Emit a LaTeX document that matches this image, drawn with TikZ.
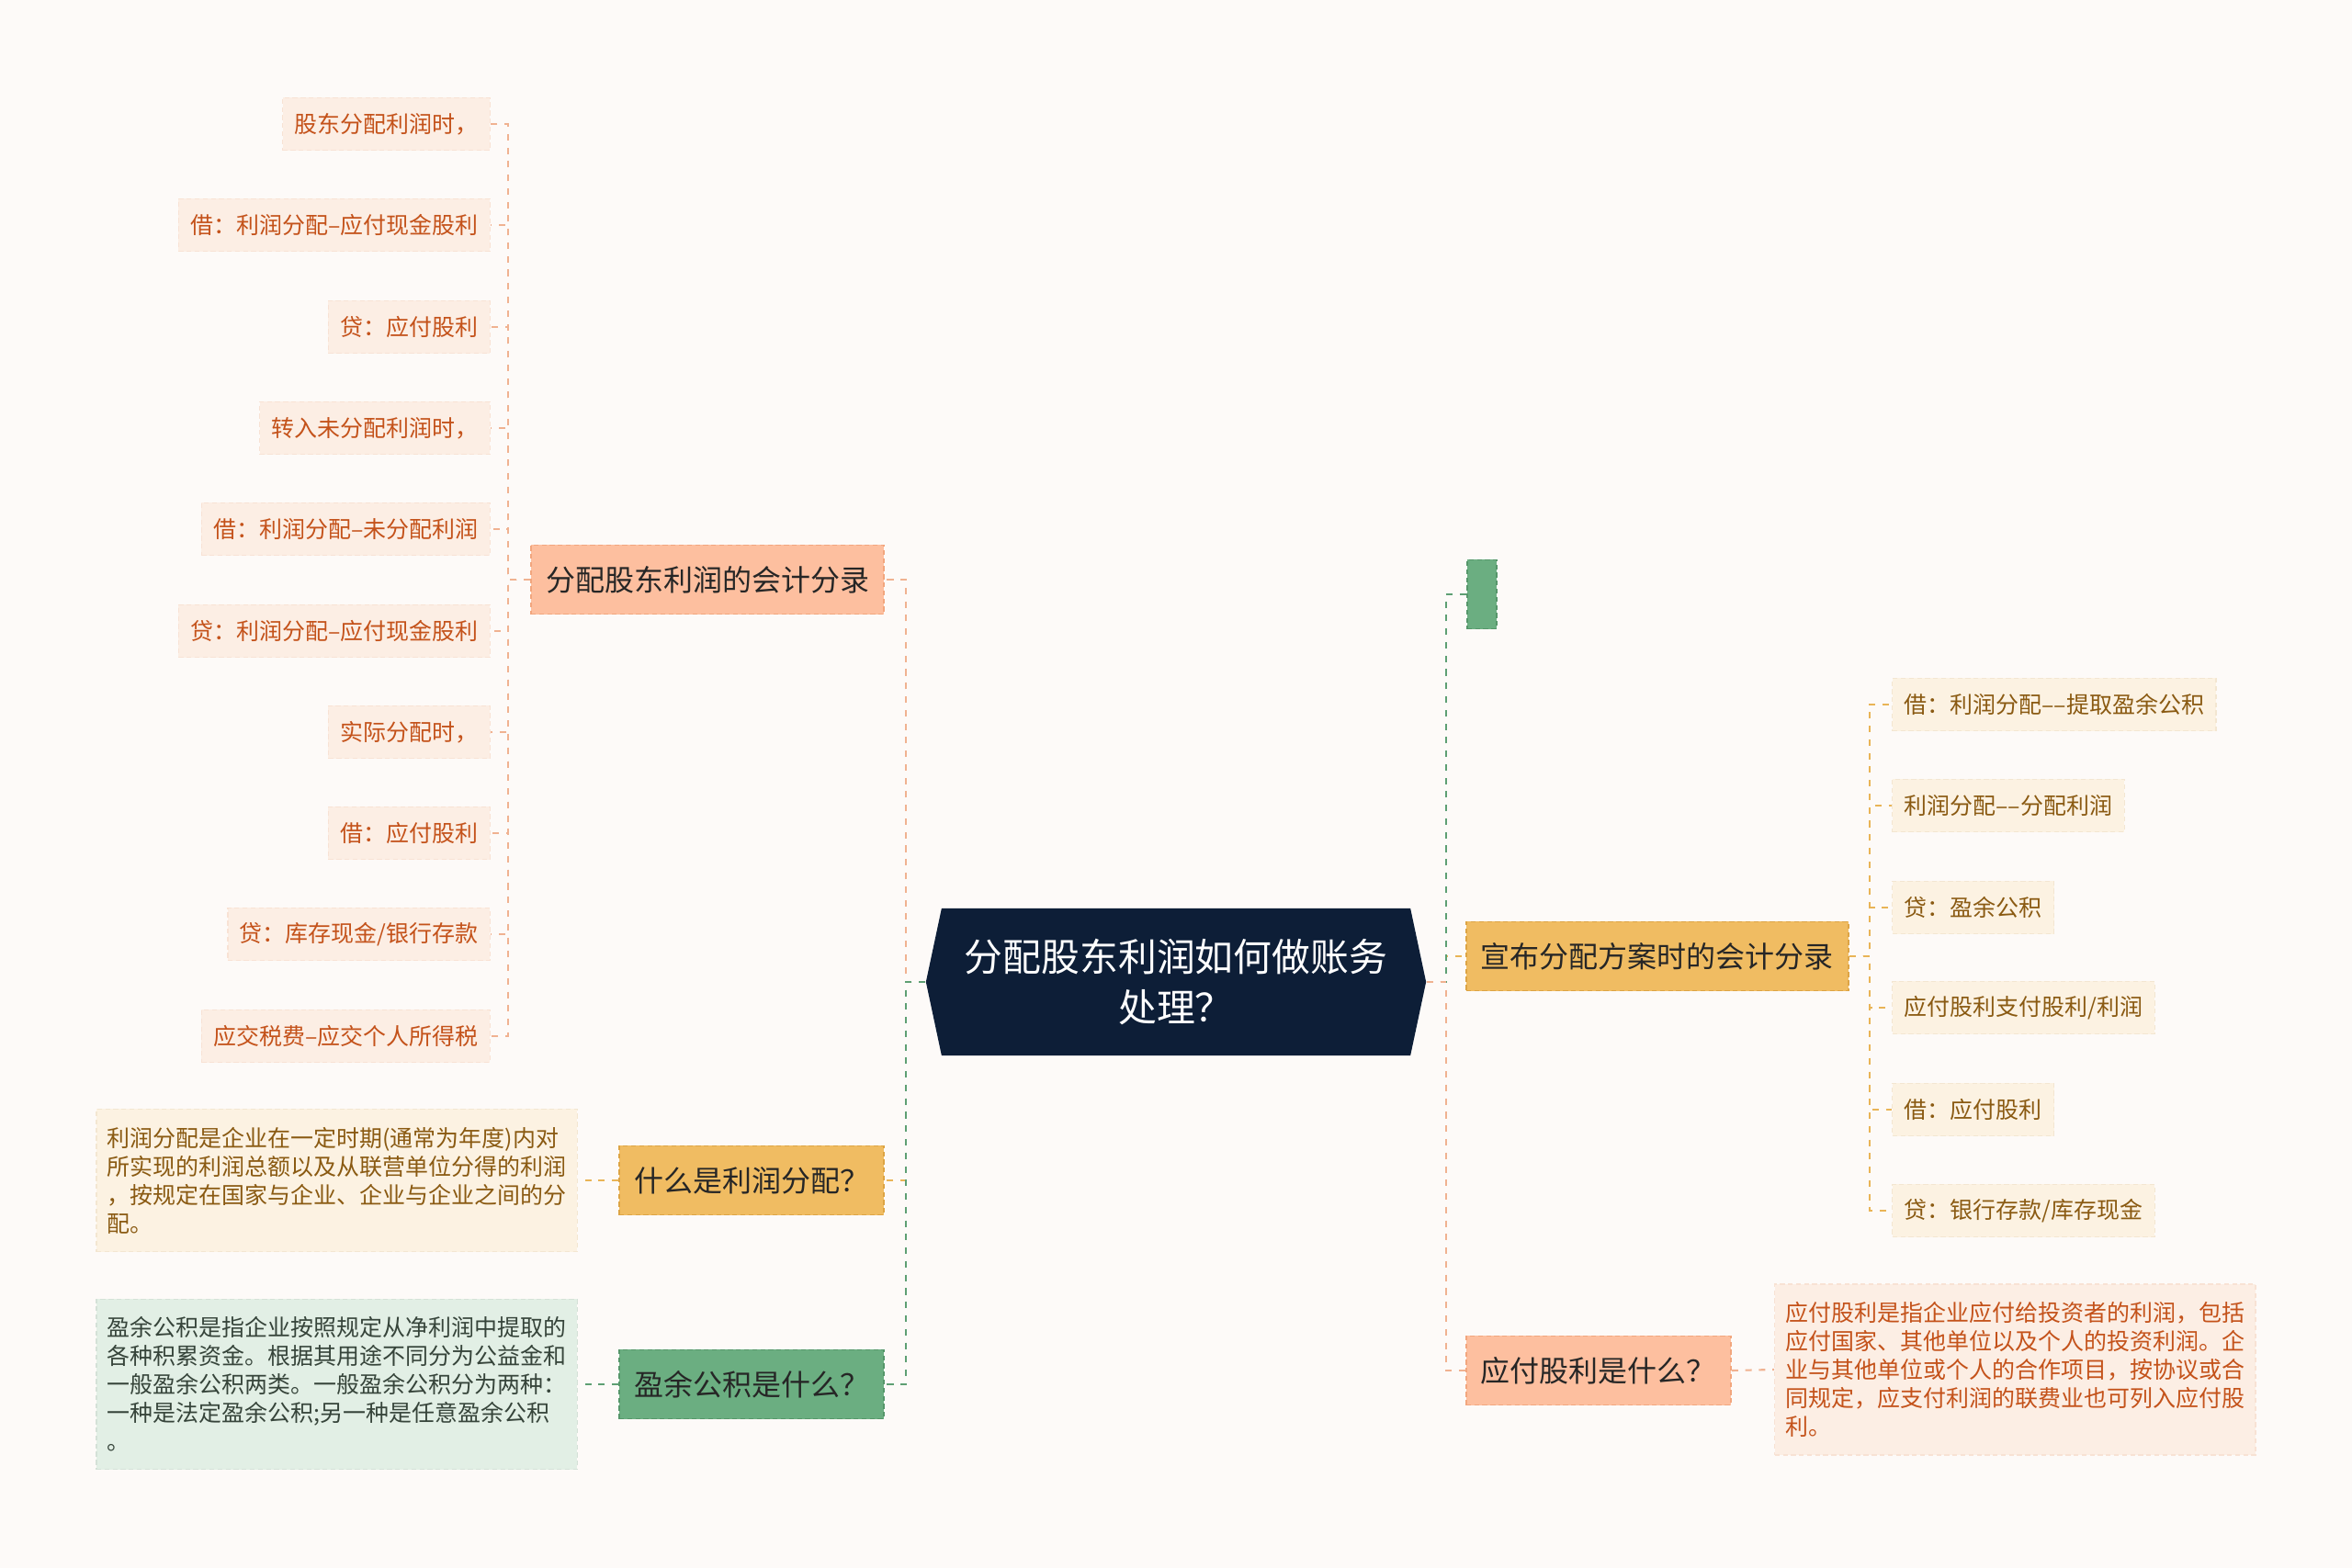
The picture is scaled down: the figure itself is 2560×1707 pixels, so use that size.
\documentclass[tikz,border=0pt]{standalone}
\usepackage{fontspec}
\setmainfont{Noto Sans CJK SC}
\usetikzlibrary{positioning,shapes.symbols}

\definecolor{bgcol}{HTML}{FDFAF8}
\definecolor{navy}{HTML}{0D1E37}
\definecolor{peachfill}{HTML}{FDBF9F}
\definecolor{peachedge}{HTML}{F2A67E}
\definecolor{peachline}{HTML}{F0B291}
\definecolor{goldfill}{HTML}{F0BC62}
\definecolor{goldedge}{HTML}{DDA444}
\definecolor{goldline}{HTML}{E9B456}
\definecolor{greenfill}{HTML}{6BAE81}
\definecolor{greenedge}{HTML}{56966A}
\definecolor{greenline}{HTML}{5E9F73}
\definecolor{peachleaf}{HTML}{FCEEE4}
\definecolor{peachtext}{HTML}{C4521A}
\definecolor{creamleaf}{HTML}{FCF2E2}
\definecolor{creamtext}{HTML}{8A5A12}
\definecolor{greenleaf}{HTML}{E2EFE5}
\definecolor{greentext}{HTML}{36443A}

\tikzset{
  lk/.style={line width=0.6pt, dash pattern=on 2pt off 2.2pt},
  fork/.style={lk, to path={-- ++(-24,0) |- (\tikztotarget)}},
  forkr/.style={lk, to path={-- ++(22,0) |- (\tikztotarget)}},
  rootbox/.style={signal, signal to=west and east, signal pointer angle=156, fill=navy, text=white,
    minimum width=5.44cm, minimum height=1.6cm, align=center, font=\fontsize{11.9}{15.9}\selectfont},
  branch/.style={rectangle, draw, line width=0.5pt, dash pattern=on 1.5pt off 1pt, minimum height=0.75cm,
    inner xsep=0.16cm, text=black!85, font=\fontsize{9.1}{11}\selectfont},
  leaf/.style={rectangle, fill=peachleaf, draw=peachleaf!92!peachtext, text=peachtext, line width=0.4pt,
    dash pattern=on 1.5pt off 1pt, minimum height=0.57cm, inner xsep=0.13cm, font=\fontsize{7.1}{8.5}\selectfont},
  leafr/.style={leaf, fill=creamleaf, draw=creamleaf!92!creamtext, text=creamtext},
  desc/.style={rectangle, line width=0.4pt, dash pattern=on 1.5pt off 1pt, align=left, minimum width=5.23cm,
    inner xsep=0.12cm, font=\fontsize{7.1}{8.8}\selectfont}
}

\begin{document}
\begin{tikzpicture}[x=0.01cm, y=-0.01cm]
  \fill[bgcol] (0,0) rectangle (2560,1707);
  \useasboundingbox (0,0) rectangle (2560,1707);

  \node[rootbox] (root) at (1280,1069) {分配股东利润如何做账务\\处理？};

  % left branches
  \node[branch, fill=peachfill, draw=peachedge, anchor=east] (b1) at (963,631) {分配股东利润的会计分录};
  \node[branch, fill=goldfill, draw=goldedge, anchor=east] (b2) at (963,1285) {什么是利润分配？};
  \node[branch, fill=greenfill, draw=greenedge, anchor=east] (b3) at (963,1507) {盈余公积是什么？};

  % right branches
  \node[branch, fill=greenfill, draw=greenedge, anchor=west, minimum width=0.32cm, inner xsep=0pt] (r1) at (1596,647) {};
  \node[branch, fill=goldfill, draw=goldedge, anchor=west] (r2) at (1595,1041) {宣布分配方案时的会计分录};
  \node[branch, fill=peachfill, draw=peachedge, anchor=west] (r3) at (1595,1492) {应付股利是什么？};

  % leaves of b1
  \node[leaf, anchor=east] (l1) at (534,135) {股东分配利润时，};
  \node[leaf, anchor=east] (l2) at (534,245) {借：利润分配–应付现金股利};
  \node[leaf, anchor=east] (l3) at (534,356) {贷：应付股利};
  \node[leaf, anchor=east] (l4) at (534,466) {转入未分配利润时，};
  \node[leaf, anchor=east] (l5) at (534,576) {借：利润分配–未分配利润};
  \node[leaf, anchor=east] (l6) at (534,687) {贷：利润分配–应付现金股利};
  \node[leaf, anchor=east] (l7) at (534,797) {实际分配时，};
  \node[leaf, anchor=east] (l8) at (534,907) {借：应付股利};
  \node[leaf, anchor=east] (l9) at (534,1017) {贷：库存现金/银行存款};
  \node[leaf, anchor=east] (l10) at (534,1128) {应交税费–应交个人所得税};

  % leaves of r2
  \node[leafr, anchor=west] (m1) at (2059,767) {借：利润分配––提取盈余公积};
  \node[leafr, anchor=west] (m2) at (2059,877) {利润分配––分配利润};
  \node[leafr, anchor=west] (m3) at (2059,988) {贷：盈余公积};
  \node[leafr, anchor=west] (m4) at (2059,1097) {应付股利支付股利/利润};
  \node[leafr, anchor=west] (m5) at (2059,1208) {借：应付股利};
  \node[leafr, anchor=west] (m6) at (2059,1318) {贷：银行存款/库存现金};

  % notes
  \node[desc, fill=creamleaf, draw=creamleaf!92!creamtext, text=creamtext, minimum height=1.55cm, anchor=east] (d2) at (629,1285)
    {利润分配是企业在一定时期(通常为年度)内对\\所实现的利润总额以及从联营单位分得的利润\\，按规定在国家与企业、企业与企业之间的分\\配。};
  \node[desc, fill=greenleaf, draw=greenleaf!92!greentext, text=greentext, minimum height=1.85cm, anchor=east] (d3) at (629,1507)
    {盈余公积是指企业按照规定从净利润中提取的\\各种积累资金。根据其用途不同分为公益金和\\一般盈余公积两类。一般盈余公积分为两种：\\一种是法定盈余公积;另一种是任意盈余公积\\。};
  \node[desc, fill=peachleaf, draw=peachleaf!92!peachtext, text=peachtext, minimum height=1.86cm, anchor=west] (e3) at (1931,1491)
    {应付股利是指企业应付给投资者的利润，包括\\应付国家、其他单位以及个人的投资利润。企\\业与其他单位或个人的合作项目，按协议或合\\同规定，应支付利润的联费业也可列入应付股\\利。};

  \path[peachline]
    (root.west) edge[fork, to path={-- ++(-21,0) |- (\tikztotarget)}] (b1.east)
    (b1.west) edge[fork] (l1.east)
    (b1.west) edge[fork] (l2.east)
    (b1.west) edge[fork] (l3.east)
    (b1.west) edge[fork] (l4.east)
    (b1.west) edge[fork] (l5.east)
    (b1.west) edge[fork] (l6.east)
    (b1.west) edge[fork] (l7.east)
    (b1.west) edge[fork] (l8.east)
    (b1.west) edge[fork] (l9.east)
    (b1.west) edge[fork] (l10.east)
    (root.east) edge[forkr, to path={-- ++(21,0) |- (\tikztotarget)}] (r3.west)
    (r3.east) edge[lk] (e3.west)
  ;
  \path[goldline]
    (root.west) edge[fork, to path={-- ++(-21,0) |- (\tikztotarget)}] (b2.east)
    (b2.west) edge[lk] (d2.east)
    (root.east) edge[forkr, to path={-- ++(21,0) |- (\tikztotarget)}] (r2.west)
    (r2.east) edge[forkr] (m1.west)
    (r2.east) edge[forkr] (m2.west)
    (r2.east) edge[forkr] (m3.west)
    (r2.east) edge[forkr] (m4.west)
    (r2.east) edge[forkr] (m5.west)
    (r2.east) edge[forkr] (m6.west)
  ;
  \path[greenline]
    (root.west) edge[fork, to path={-- ++(-21,0) |- (\tikztotarget)}] (b3.east)
    (b3.west) edge[lk] (d3.east)
    (root.east) edge[forkr, to path={-- ++(21,0) |- (\tikztotarget)}] (r1.west)
  ;
  \path[peachline]
    (root.east) edge[lk] ++(21,0)
  ;
\end{tikzpicture}
\end{document}
